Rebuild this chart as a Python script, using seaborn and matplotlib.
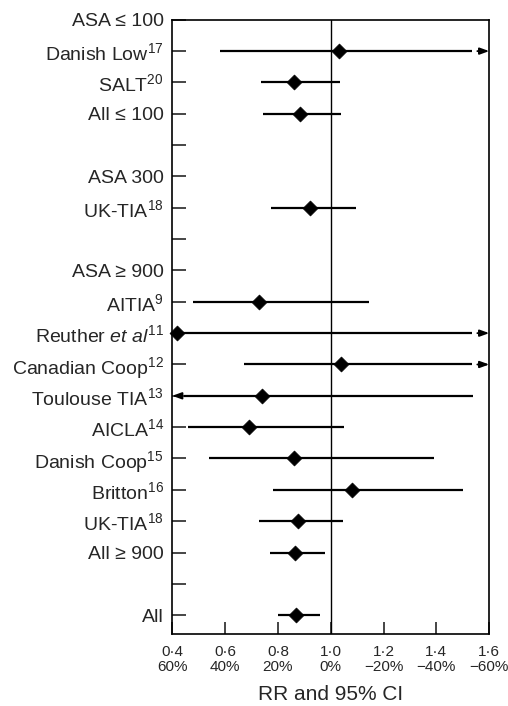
import numpy as np
import pandas as pd
import matplotlib
matplotlib.use("Agg")
import matplotlib.pyplot as plt
import seaborn as sns

# rows top to bottom; empty label = spacer row
labels = ["ASA ≤ 100", "Danish Low$^{17}$", "SALT$^{20}$", "All ≤ 100", "",
          "ASA 300", "UK-TIA$^{18}$", "",
          "ASA ≥ 900", "AITIA$^{9}$", "Reuther $\\mathit{et\\ al}^{11}$",
          "Canadian Coop$^{12}$", "Toulouse TIA$^{13}$", "AICLA$^{14}$",
          "Danish Coop$^{15}$", "Britton$^{16}$", "UK-TIA$^{18}$", "All ≥ 900", "",
          "All"]
nan = np.nan
inf = np.inf
# relative risk and 95% CI (inf = off the scale, drawn as arrow)
rr = [nan, 1.03, 0.86, 0.885, nan, nan, 0.92, nan,
      nan, 0.73, 0.42, 1.04, 0.74, 0.69, 0.86, 1.08, 0.875, 0.865, nan, 0.87]
ci_low = [nan, 0.58, 0.735, 0.745, nan, nan, 0.775, nan,
          nan, 0.48, 0.40, 0.67, -inf, 0.46, 0.54, 0.78, 0.73, 0.77, nan, 0.80]
ci_high = [nan, inf, 1.035, 1.04, nan, nan, 1.095, nan,
           nan, 1.145, inf, inf, 1.54, 1.05, 1.39, 1.50, 1.045, 0.98, nan, 0.96]

x_ticks = [0.4, 0.6, 0.8, 1.0, 1.2, 1.4, 1.6]
x_tick_labels = ["0·4\n60%", "0·6\n40%", "0·8\n20%", "1·0\n0%",
                 "1·2\n−20%", "1·4\n−40%", "1·6\n−60%"]
x_title = "RR and 95% CI"

sns.set_style("ticks")
plt.rcParams["font.family"] = ["Liberation Sans", "DejaVu Sans"]
plt.rcParams["mathtext.fontset"] = "custom"
plt.rcParams["mathtext.rm"] = "Liberation Sans"
plt.rcParams["mathtext.it"] = "Liberation Sans:italic"
plt.rcParams["mathtext.bf"] = "Liberation Sans:bold"

df = pd.DataFrame({"row": np.arange(len(labels)), "rr": rr,
                   "lo": ci_low, "hi": ci_high})
xmin, xmax = x_ticks[0], x_ticks[-1]

fig = plt.figure(figsize=(5.08, 7.06), dpi=100)
ax = fig.add_axes([0.339, 0.102, 0.624, 0.870])

ax.axvline(1.0, color="black", lw=1.0, zorder=1)

arrow_kw = dict(arrowstyle="-|>,head_length=0.55,head_width=0.2",
                color="black", lw=1.3, shrinkA=0, shrinkB=0)
for _, r in df.dropna(subset=["rr"]).iterrows():
    lo, hi = r.lo, r.hi
    lo_c = max(lo, xmin + 0.045) if lo < xmin else lo
    hi_c = min(hi, xmax - 0.065) if hi > xmax else hi
    ax.hlines(r.row, lo_c, hi_c, color="black", lw=1.6, zorder=2)
    if hi > xmax:
        ax.annotate("", xy=(xmax, r.row), xytext=(xmax - 0.045, r.row),
                    arrowprops=arrow_kw)
    if lo < xmin:
        ax.annotate("", xy=(xmin, r.row), xytext=(xmin + 0.035, r.row),
                    arrowprops=arrow_kw)

sns.scatterplot(data=df, x="rr", y="row", marker="D", s=58, color="black",
                edgecolor="black", linewidth=0.5, ax=ax, legend=False,
                zorder=3, clip_on=False)

ax.set_xlim(xmin, xmax)
ax.set_ylim(len(labels) - 0.4, 0)
ax.set_xticks(x_ticks)
ax.set_xticklabels(x_tick_labels, fontsize=11, linespacing=1.05)
ax.set_yticks(df.row)
ax.set_yticklabels(labels, fontsize=14)
ax.tick_params(axis="y", direction="in", length=10, width=1.2, pad=6,
               left=True, right=False)
ax.tick_params(axis="x", direction="in", length=9, width=1.2, pad=8,
               bottom=True, top=False)
for side in ax.spines.values():
    side.set_linewidth(1.2)
    side.set_color("black")
ax.set_xlabel(x_title, fontsize=15, labelpad=8)
ax.set_ylabel("")

fig.savefig("out.png", dpi=100)
